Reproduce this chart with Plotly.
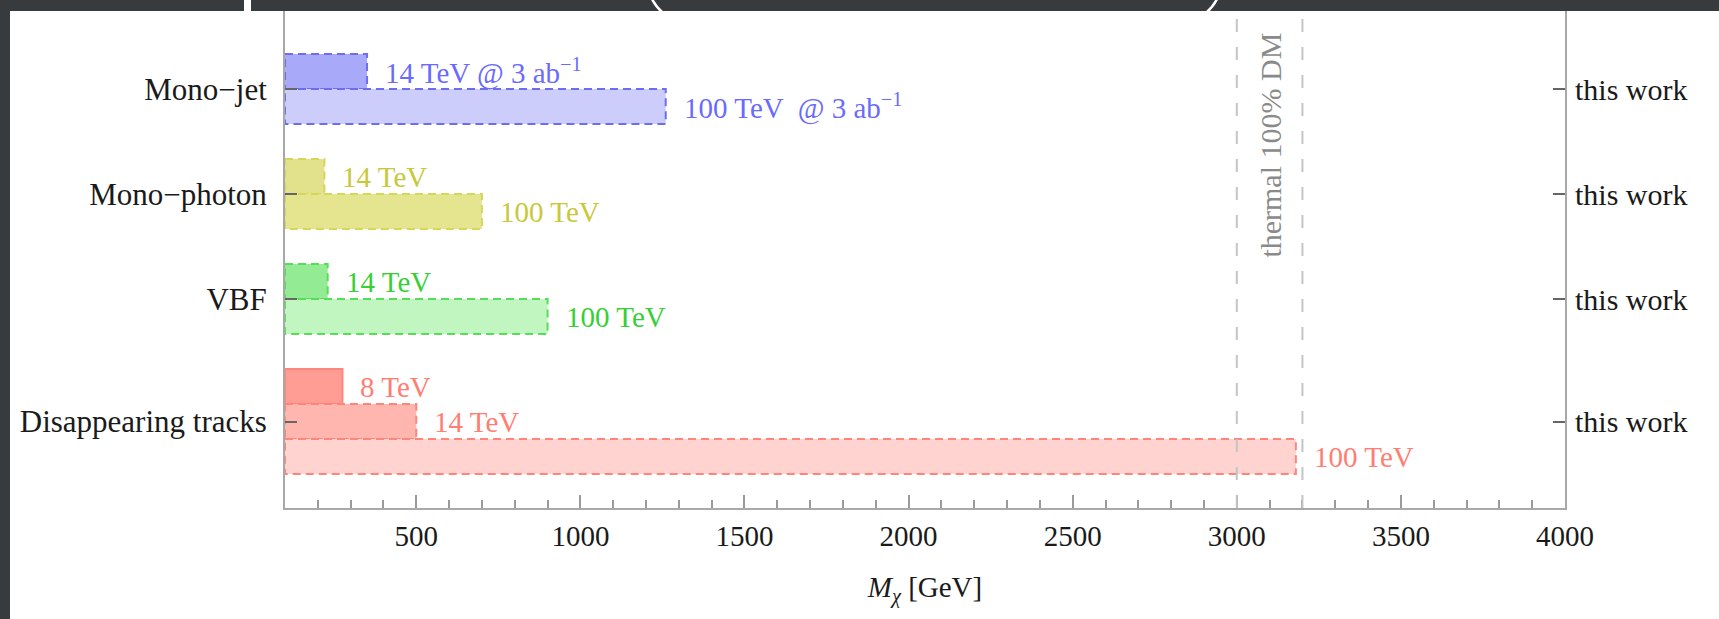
import plotly.graph_objects as go

# Collider reach for the wino-like dark matter searches, per channel
channels = ["Mono−jet", "Mono−photon", "VBF", "Disappearing tracks"]
bar_channel = [0, 0, 1, 1, 2, 2, 3, 3, 3]
bar_labels = [
    "14 TeV @ 3 ab<sup>−1</sup>", "100 TeV  @ 3 ab<sup>−1</sup>",
    "14 TeV", "100 TeV",
    "14 TeV", "100 TeV",
    "8 TeV", "14 TeV", "100 TeV",
]
reach_gev = [350, 1260, 220, 700, 230, 900, 275, 500, 3180]
bar_kind = ["dash", "dash", "dash", "dash", "dash", "dash", "solid", "dash", "dash"]
thermal_band = [3000, 3200]
x_min, x_max = 100, 4000
x_ticks = [500, 1000, 1500, 2000, 2500, 3000, 3500, 4000]
right_label = "this work"

FONT = "Liberation Serif"

fills = ["#a9a9fa", "#cdcdfc", "#e2e28d", "#e5e590", "#93ec93", "#c1f6c1",
         "#ff9d94", "#ffb6af", "#ffd3cf"]
edges = {0: "#6d6df2", 1: "#d6d658", 2: "#58dd58", 3: "#ff857b"}
text_col = {0: "#6a6aff", 1: "#c8c83a", 2: "#36cf36", 3: "#ff7d73"}

# stack each channel's bars in consecutive rows, one blank row between channels
rows, row, prev = [], 0, None
for c in bar_channel:
    if prev is not None and c != prev:
        row += 1
    rows.append(row)
    row += 1
    prev = c
tick_rows = []
for ci in range(len(channels)):
    r = [rows[i] for i, c in enumerate(bar_channel) if c == ci]
    tick_rows.append((min(r) + max(r)) / 2)

fig = go.Figure()
for i, v in enumerate(reach_gev):
    y0, y1 = rows[i] - 0.5, rows[i] + 0.5
    fig.add_trace(go.Scatter(
        x=[x_min, v, v, x_min, x_min], y=[y0, y0, y1, y1, y0],
        mode="lines", fill="toself", fillcolor=fills[i],
        line=dict(color=edges[bar_channel[i]], width=2,
                  dash="8px,5px" if bar_kind[i] == "dash" else "solid"),
        hoverinfo="skip", showlegend=False,
    ))
    fig.add_annotation(
        x=v, y=rows[i], text=bar_labels[i], showarrow=False,
        xanchor="left", yanchor="middle", xshift=16,
        font=dict(family=FONT, size=29, color=text_col[bar_channel[i]]),
    )

# the right-hand axis carries the "this work" row labels
fig.add_trace(go.Scatter(x=[None], y=[None], yaxis="y2", mode="markers",
                         hoverinfo="skip", showlegend=False))

# geometry of the plotting frame inside the page
W, H = 1719, 619
L, R, T, B = 285, 1565, 11, 508
px = lambda x: (x - L) / (R - L)
py = lambda y: (B - y) / (B - T)

shapes = [
    # slide decoration peeking above the white panel
    dict(type="rect", xref="paper", yref="paper", x0=px(244), x1=px(251),
         y0=py(12), y1=py(-2), fillcolor="white", line_width=0, layer="below"),
    dict(type="path", xref="paper", yref="paper",
         path=f"M {px(652)},{py(-1)} Q {px(656)},{py(7)} {px(663)},{py(13)}",
         line=dict(color="white", width=2.5), layer="below"),
    dict(type="path", xref="paper", yref="paper",
         path=f"M {px(1217)},{py(-1)} Q {px(1213)},{py(7)} {px(1206)},{py(13)}",
         line=dict(color="white", width=2.5), layer="below"),
    # white figure panel
    dict(type="rect", xref="paper", yref="paper", x0=px(10), x1=px(W + 2),
         y0=py(H + 2), y1=py(T), fillcolor="white", line_width=0, layer="below"),
]
for xv in thermal_band:
    shapes.append(dict(type="line", xref="x", yref="paper", x0=xv, x1=xv,
                       y0=0, y1=1, line=dict(color="#c4c4c4", width=2, dash="13px,15px"),
                       layer="above"))

fig.add_annotation(
    x=sum(thermal_band) / 2, y=2.1, text="thermal 100% DM", textangle=-90,
    showarrow=False, xanchor="center", yanchor="middle",
    font=dict(family=FONT, size=30, color="#8a8a8a"),
)

y_range = [(B - 71.5) / 35, (T - 71.5) / 35]

fig.update_layout(
    width=W, height=H,
    margin=dict(l=L, r=W - R, t=T, b=H - B, pad=0),
    paper_bgcolor="#373b3d", plot_bgcolor="white",
    shapes=shapes,
    font=dict(family=FONT, size=30, color="#222"),
    xaxis=dict(
        range=[x_min, x_max], tickvals=x_ticks, ticks="inside", ticklen=13,
        tickwidth=2, tickcolor="#9a9a9a", showline=True, linecolor="#a8a8a8",
        linewidth=2, showgrid=False, zeroline=False, mirror=False,
        ticklabelstandoff=1,
        tickfont=dict(family=FONT, size=29, color="#1a1a1a"),
        minor=dict(dtick=100, tick0=0, ticks="inside", ticklen=8, tickwidth=2,
                   tickcolor="#9a9a9a", showgrid=False),
        title=dict(text="<i>M</i><sub><i>χ</i></sub> [GeV]", standoff=26,
                   font=dict(family=FONT, size=29, color="#1a1a1a")),
    ),
    yaxis=dict(
        range=y_range, tickvals=tick_rows, ticktext=channels, ticks="inside",
        ticklen=12, tickwidth=2, tickcolor="#666", showline=True,
        linecolor="#a8a8a8", linewidth=2, showgrid=False, zeroline=False,
        ticklabelstandoff=10, tickfont=dict(family=FONT, size=31, color="#1a1a1a"),
    ),
    yaxis2=dict(
        range=y_range, overlaying="y", side="right", anchor="x",
        tickvals=tick_rows, ticktext=[right_label] * len(tick_rows),
        ticks="inside", ticklen=12, tickwidth=2, tickcolor="#666",
        showline=True, linecolor="#a8a8a8", linewidth=2, showgrid=False,
        zeroline=False, ticklabelstandoff=2,
        tickfont=dict(family=FONT, size=30, color="#1a1a1a"),
    ),
)

fig.write_html("out.html")
